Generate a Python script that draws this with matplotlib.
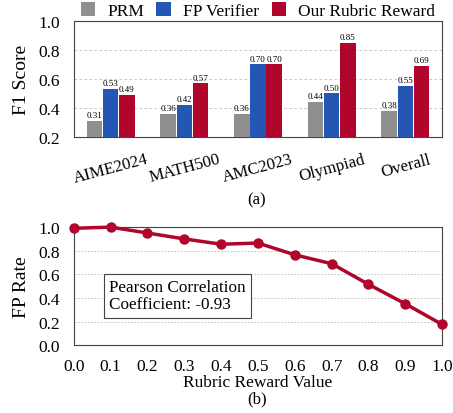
import matplotlib
matplotlib.use('Agg')
import matplotlib.pyplot as plt
import numpy as np

plt.rcParams['font.family'] = ['Liberation Serif', 'DejaVu Serif']

datasets = ['AIME2024', 'MATH500', 'AMC2023', 'Olympiad', 'Overall']
prm = [0.31, 0.36, 0.36, 0.44, 0.38]
fp_verifier = [0.53, 0.42, 0.70, 0.50, 0.55]
rubric = [0.49, 0.57, 0.70, 0.85, 0.69]

reward_vals = [0.0, 0.1, 0.2, 0.3, 0.4, 0.5, 0.6, 0.7, 0.8, 0.9, 1.0]
fp_rate = [0.99, 1.00, 0.95, 0.90, 0.855, 0.865, 0.765, 0.69, 0.515, 0.35, 0.175]

c_gray = '#8f8f8f'
c_blue = '#2456b4'
c_red = '#b0062c'

fig = plt.figure(figsize=(4.53, 4.14), dpi=100)

# (a) bars
ax1 = fig.add_axes([0.163, 0.667, 0.813, 0.280])
x = np.arange(len(datasets))
w = 0.22
series = [(prm, c_gray, 'PRM'), (fp_verifier, c_blue, 'FP Verifier'), (rubric, c_red, 'Our Rubric Reward')]
for k, (vals, col, lab) in enumerate(series):
    bars = ax1.bar(x + (k - 1) * w, vals, w * 0.96, color=col, label=lab, zorder=3)
    for b, v in zip(bars, vals):
        ax1.text(b.get_x() + b.get_width() / 2, v + 0.012, '%.2f' % v,
                 ha='center', va='bottom', fontsize=6.5)
ax1.set_xlim(-0.5, len(datasets) - 0.5)
ax1.set_ylim(0.2, 1.0)
ax1.set_yticks([0.2, 0.4, 0.6, 0.8, 1.0])
ax1.set_xticks(x)
ax1.set_xticklabels(datasets, rotation=15, fontsize=12.2)
ax1.tick_params(axis='y', labelsize=12.5, length=0, pad=10)
ax1.tick_params(axis='x', length=0, pad=10)
ax1.set_ylabel('F1 Score', fontsize=14, labelpad=6)
ax1.grid(axis='y', ls=(0, (3, 3)), color='#bbbbbb', lw=0.6, zorder=0)
for s in ax1.spines.values():
    s.set_color('#444444')
ax1.legend(loc='center', bbox_to_anchor=(0.5, 1.088), ncol=3, frameon=False,
           fontsize=12.5, handlelength=0.85, handleheight=0.85, columnspacing=0.7,
           handletextpad=0.7, borderaxespad=0, borderpad=0)
fig.text(0.566, 0.517, '(a)', ha='center', va='center', fontsize=12)

# (b) line
ax2 = fig.add_axes([0.163, 0.164, 0.813, 0.285])
ax2.plot(reward_vals, fp_rate, color=c_red, lw=2.5, marker='o', markersize=6.5, clip_on=False, zorder=3)
ax2.set_xlim(0, 1.0)
ax2.set_ylim(0, 1.0)
ax2.set_xticks(reward_vals)
ax2.set_xticklabels(['%.1f' % v for v in reward_vals])
ax2.set_yticks([0.0, 0.2, 0.4, 0.6, 0.8, 1.0])
ax2.tick_params(labelsize=12.5, length=0)
ax2.tick_params(axis='y', pad=10)
ax2.tick_params(axis='x', pad=9)
ax2.set_xlabel('Rubric Reward Value', fontsize=12.5, labelpad=0)
ax2.set_ylabel('FP Rate', fontsize=14, labelpad=6)
ax2.grid(axis='y', ls=(0, (2, 2)), color='#bbbbbb', lw=0.6, zorder=0)
for s in ax2.spines.values():
    s.set_color('#444444')
ax2.text(0.095, 0.42, 'Pearson Correlation\nCoefficient: -0.93', transform=ax2.transAxes,
         ha='left', va='center', fontsize=12.3, linespacing=1.15,
         bbox=dict(boxstyle='square,pad=0.3', fc='white', ec='#444444', lw=0.8))
fig.text(0.568, 0.036, '(b)', ha='center', va='center', fontsize=12)

fig.savefig('out.png', dpi=100)
